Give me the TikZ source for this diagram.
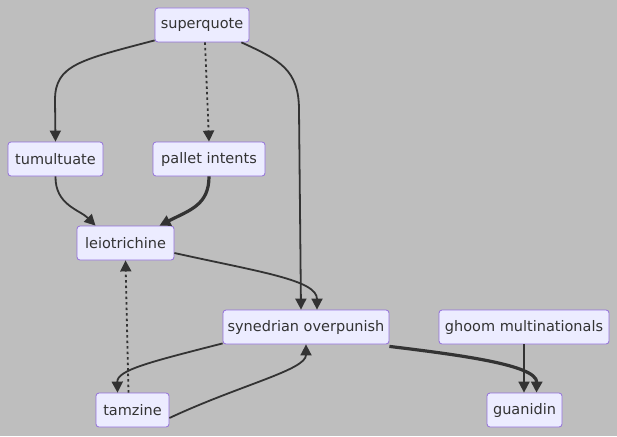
\documentclass[tikz,border=0pt]{standalone}
\usepackage{fontspec}
\setmainfont{DejaVu Sans}
\usetikzlibrary{arrows.meta}
\definecolor{bg}{HTML}{BEBEBE}
\definecolor{nodefill}{HTML}{ECECFF}
\definecolor{nodeborder}{HTML}{9370DB}
\definecolor{edge}{HTML}{333333}
\definecolor{txt}{HTML}{333333}
\begin{document}
\begin{tikzpicture}[x=1pt,y=-1pt,
  box/.style={draw=nodeborder,fill=nodefill,rounded corners=3pt,line width=0.8pt,
    minimum height=34pt,inner xsep=2pt,text=txt,font=\fontsize{14.5}{16}\selectfont},
  link/.style={draw=edge,line width=1.8pt,-{Triangle[length=11pt,width=11pt]}},
  thick link/.style={link,line width=3.2pt},
  dotlink/.style={link,dash pattern=on 2.5pt off 3pt}]
\fill[bg] (0,0) rectangle (617,436);
\useasboundingbox (0,0) rectangle (617,436);
\node[box,minimum width=94pt] (sq) at (202,25) {superquote};
\node[box,minimum width=95pt] (tu) at (55.5,159) {tumultuate};
\node[box,minimum width=112pt] (pi) at (209,159) {pallet intents};
\node[box,minimum width=97pt] (le) at (125.5,243) {leiotrichine};
\node[box,minimum width=166pt] (sy) at (306,327) {synedrian overpunish};
\node[box,minimum width=170pt] (gh) at (524,327) {ghoom multinationals};
\node[box,minimum width=73pt] (ta) at (132.5,410) {tamzine};
\node[box,minimum width=75pt] (gu) at (524.5,410) {guanidin};
% edges
\draw[link] (sq.south west) ++(0,-2) .. controls (80,60) and (55,65) .. (55,100) -- (tu.north);
\draw[dotlink] (sq.south) ++(3,0) -- (pi.north);
\draw[link] (sq.south east) ++(-8,0) .. controls (280,60) and (299,70) .. (299,110) -- ([xshift=-5pt]sy.north);
\draw[link] (tu.south) .. controls (55,205) and (80,210) .. ([xshift=-30pt]le.north);
\draw[thick link] (pi.south) .. controls (209,205) and (190,210) .. ([xshift=34pt]le.north);
\draw[link] (le.east) ++(0,10) .. controls (260,272) and (317,280) .. ([xshift=11pt]sy.north);
\draw[link] (sy.south west) ++(0,-1) .. controls (150,362) and (117,370) .. ([xshift=-15pt]ta.north);
\draw[link] ([yshift=-8pt]ta.east) .. controls (240,385) and (306,370) .. (sy.south);
\draw[dotlink] ([xshift=-4pt]ta.north) -- (le.south);
\draw[thick link] ([yshift=-2pt]sy.south east) .. controls (460,355) and (537,365) .. ([xshift=12pt]gu.north);
\draw[link] (gh.south) -- ([xshift=-0.5pt]gu.north);
\end{tikzpicture}
\end{document}
